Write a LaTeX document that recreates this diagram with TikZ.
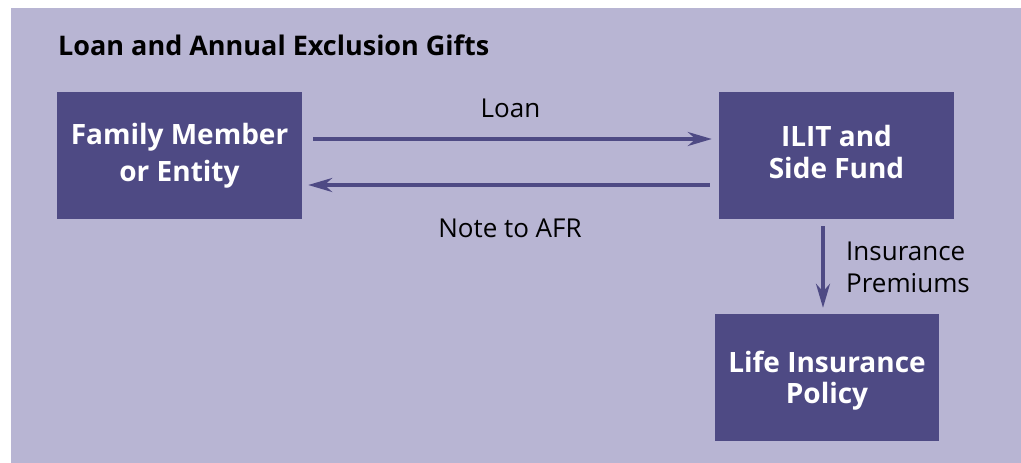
\documentclass[tikz,border=0pt]{standalone}
\usepackage{fontspec}
\setmainfont{Open Sans}
\usetikzlibrary{arrows.meta}
\definecolor{bgcol}{HTML}{B8B5D3}
\definecolor{boxcol}{HTML}{4E4A84}
\tikzset{fbox/.style={ fill = boxcol,rectangle,text=white,align=center,inner sep=0pt,minimum height=127pt}}
\tikzset{flow/.style={ draw=boxcol, line width=3.3pt,-{Stealth[length=24pt,width=14pt]}}}
\tikzset{lbl/.style={ font=\fontsize{26}{32}\selectfont,inner sep=0pt}}

\begin{document}
\begin{tikzpicture}[x=1pt,y=-1pt]
\useasboundingbox (0,0) rectangle (1021,463);
\fill[bgcol] (11,8) rectangle (1021,463);
\node[anchor=base west,font=\fontsize{27}{32}\selectfont\bfseries,inner sep=0pt] (title) at (58,55) {Loan and Annual Exclusion Gifts};
\node[fbox,minimum width=245pt,font=\fontsize{28}{37}\selectfont\bfseries] (fam) at (179.5,155.5) {Family Member\\or Entity};
\node[fbox,minimum width=235pt,font=\fontsize{28}{32}\selectfont\bfseries] (ilit) at (836.5,155.5) {ILIT and\\Side Fund\vphantom{y}};
\node[fbox,minimum width=224pt,font=\fontsize{28}{31}\selectfont\bfseries] (life) at (827,377.5) {\rule{0pt}{27pt}Life Insurance\\Policy};
\draw[flow,shorten <=11pt,shorten >=7pt] ([yshift=16.5pt]fam.east) -- ([yshift=16.5pt]ilit.west);
\draw[flow,shorten <=9pt,shorten >=6pt] ([yshift=-29.5pt]ilit.west) -- ([yshift=-29.5pt]fam.east);
\draw[flow,shorten <=7pt,shorten >=6pt] ([xshift=-13.5pt]ilit.south) -- ([xshift=-4pt]life.north);
\node[lbl,anchor=base] (loan) at (510.5,117) {Loan};
\node[lbl,anchor=base] (note) at (510,237) {Note to AFR};
\node[lbl,anchor=north west,align=left] (prem) at (846,241.5) {Insurance\\Premiums};
\end{tikzpicture}
\end{document}
